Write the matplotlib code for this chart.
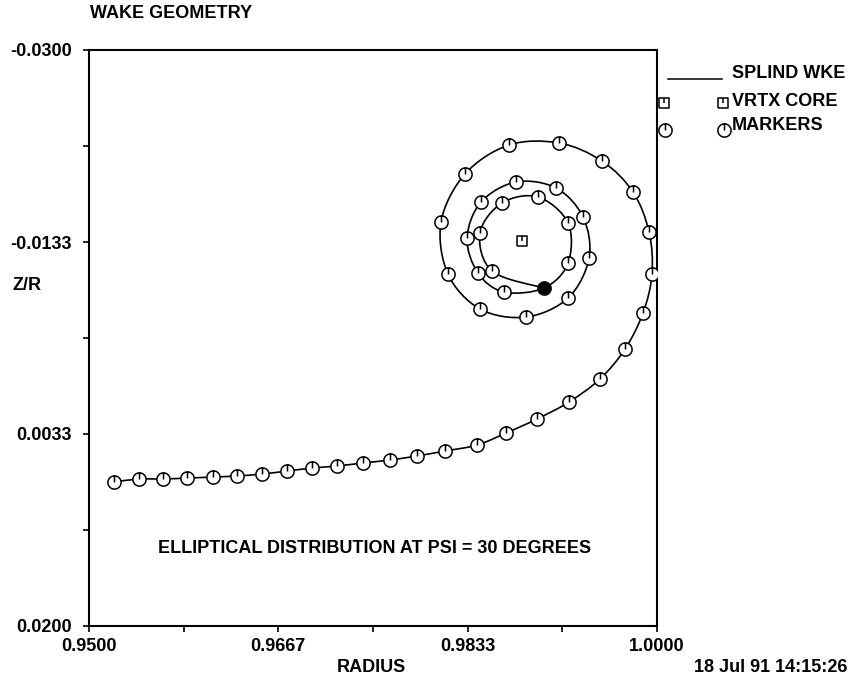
import numpy as np
import matplotlib
matplotlib.use("Agg")
import matplotlib.pyplot as plt
from matplotlib.path import Path
from matplotlib.patches import PathPatch

plt.rcParams['font.family'] = ['Liberation Sans', 'DejaVu Sans']
plt.rcParams['font.weight'] = 'bold'

# ---- data ----
radius = [0.95220, 0.95440, 0.95651, 0.95863, 0.96092, 0.96303, 0.96523, 0.96743,
          0.96963, 0.97183, 0.97412, 0.97650, 0.97887, 0.98134, 0.98416, 0.98671,
          0.98944, 0.99225, 0.99498, 0.99718, 0.99877, 0.99956, 0.99930, 0.99789,
          0.99516, 0.99137, 0.98697, 0.98310, 0.98099, 0.98160, 0.98442, 0.98847,
          0.99217, 0.99402, 0.99349, 0.99111, 0.98759, 0.98451, 0.98328, 0.98424,
          0.98653, 0.99005, 0.99217, 0.99217, 0.98953, 0.98636, 0.98442, 0.98548]
zr = [0.00750, 0.00724, 0.00724, 0.00716, 0.00707, 0.00698, 0.00681, 0.00655,
      0.00629, 0.00611, 0.00585, 0.00559, 0.00524, 0.00481, 0.00429, 0.00325,
      0.00203, 0.00056, -0.00144, -0.00404, -0.00717, -0.01055, -0.01420, -0.01767,
      -0.02036, -0.02193, -0.02175, -0.01924, -0.01507, -0.01055, -0.00752, -0.00682,
      -0.00847, -0.01194, -0.01550, -0.01802, -0.01854, -0.01680, -0.01368, -0.01064,
      -0.00899, -0.00934, -0.01150, -0.01498, -0.01724, -0.01672, -0.01411, -0.01081]
end_radius = [0.99005]
end_zr = [-0.00934]
core_radius = [0.98812]
core_zr = [-0.01342]

xticks_major = [0.95, 0.96667, 0.98333, 1.0]
xticklabels = ['0.9500', '0.9667', '0.9833', '1.0000']
xticks_minor = [0.95833, 0.975, 0.99167]
yticks_major = [-0.03, -0.013333, 0.003333, 0.02]
yticklabels = ['-0.0300', '-0.0133', '0.0033', '0.0200']
yticks_minor = [-0.021667, -0.005, 0.011667]

title = 'WAKE GEOMETRY'
note = 'ELLIPTICAL DISTRIBUTION AT PSI = 30 DEGREES'
note_pos = (0.97518, 0.01323)
stamp = '18 Jul 91 14:15:26'
legend_labels = ['SPLIND WKE', 'VRTX CORE', 'MARKERS']

# ---- marker shapes: circle / square with a tick from the top ----
t = np.linspace(0, 2 * np.pi, 60)
circ_verts = list(zip(np.sin(t), np.cos(t))) + [(0, 1), (0, 0)]
circ_codes = [Path.MOVETO] + [Path.LINETO] * (len(t) - 1) + [Path.MOVETO, Path.LINETO]
circ_marker = Path(circ_verts, circ_codes)
sq_verts = [(-1, -1), (1, -1), (1, 1), (-1, 1), (-1, -1), (0, 1), (0, 0)]
sq_codes = [Path.MOVETO, Path.LINETO, Path.LINETO, Path.LINETO, Path.LINETO,
            Path.MOVETO, Path.LINETO]
sq_marker = Path(sq_verts, sq_codes)


def spline_path(xs, ys):
    """Smooth curve through the given points (Catmull-Rom drawn as cubic Beziers)."""
    P = np.column_stack([xs, ys])
    Pe = np.vstack([P[0], P, P[-1]])
    verts = [tuple(P[0])]
    codes = [Path.MOVETO]
    for i in range(len(P) - 1):
        p0, p1, p2, p3 = Pe[i], Pe[i + 1], Pe[i + 2], Pe[i + 3]
        c1 = p1 + (p2 - p0) / 6.0
        c2 = p2 - (p3 - p1) / 6.0
        verts += [tuple(c1), tuple(c2), tuple(p2)]
        codes += [Path.CURVE4] * 3
    return Path(verts, codes)


W, H = 853, 683
fig = plt.figure(figsize=(W / 100, H / 100), dpi=100)
L, R, T, B = 89, 657, 50, 626
ax = fig.add_axes([L / W, 1 - B / H, (R - L) / W, (B - T) / H])

line_x = radius + end_radius
line_y = zr + end_zr
ax.add_patch(PathPatch(spline_path(line_x, line_y), facecolor='none',
                       edgecolor='black', lw=1.2, zorder=2))
ax.plot(radius, zr, linestyle='none', marker=circ_marker, ms=9.5,
        mfc='white', mec='black', mew=1.1, zorder=3)
ax.plot(end_radius, end_zr, linestyle='none', marker='o', ms=8,
        mfc='black', mec='black', zorder=4)
ax.plot(core_radius, core_zr, linestyle='none', marker=sq_marker, ms=7,
        mfc='white', mec='black', mew=1.1, zorder=3)

ax.set_xlim(0.95, 1.0)
ax.set_ylim(0.02, -0.03)
ax.set_xticks(xticks_major)
ax.set_xticklabels(xticklabels)
ax.set_xticks(xticks_minor, minor=True)
ax.set_yticks(yticks_major)
ax.set_yticklabels(yticklabels)
ax.set_yticks(yticks_minor, minor=True)
ax.tick_params(which='both', direction='out', length=4.5, width=1.2,
               labelsize=13, colors='black')
ax.tick_params(axis='y', pad=8)
ax.tick_params(axis='x', pad=4)
for s in ax.spines.values():
    s.set_linewidth(1.5)
for lab in ax.get_xticklabels() + ax.get_yticklabels():
    lab.set_fontweight('bold')

ax.text(note_pos[0], note_pos[1], note, ha='center', va='center',
        fontsize=13, fontweight='bold')

fig.text(90 / W, 1 - 14 / H, title, ha='left', va='center', fontsize=13, fontweight='bold')
fig.text(13 / W, 1 - 286 / H, 'Z/R', ha='left', va='center', fontsize=13, fontweight='bold')
fig.text(371 / W, 1 - 668 / H, 'RADIUS', ha='center', va='center', fontsize=13, fontweight='bold')
fig.text(847 / W, 1 - 668 / H, stamp, ha='right', va='center', fontsize=13, fontweight='bold')

# legend drawn outside the frame, in pixel coordinates
ov = fig.add_axes([0, 0, 1, 1], zorder=5)
ov.set_xlim(0, W)
ov.set_ylim(H, 0)
ov.axis('off')
ov.plot([668, 722], [79, 79], color='black', lw=1.1)
ov.plot([664, 723], [103, 103], linestyle='none', marker=sq_marker, ms=7,
        mfc='white', mec='black', mew=1.1)
ov.plot([665, 724], [130, 130], linestyle='none', marker=circ_marker, ms=9.5,
        mfc='white', mec='black', mew=1.1)
for ypix, lab in zip([73, 101, 126], legend_labels):
    ov.text(732, ypix, lab, ha='left', va='center', fontsize=13, fontweight='bold')

fig.savefig('out.png', dpi=100)
